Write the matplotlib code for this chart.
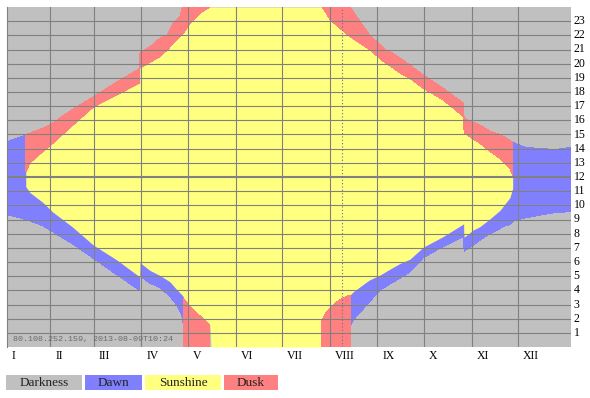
import numpy as np
import matplotlib
matplotlib.use('Agg')
import matplotlib.pyplot as plt
from matplotlib.patches import Rectangle

nan = np.nan

# day of year (0 = 1 Jan), hours in local clock time
dawn_day = [2.9, 8, 14.9, 15.2, 17.8, 26.2, 32.3, 45, 58.8, 74, 88.9, 89.1, 95.6, 102, 108.5, 112.9,
            116.1, 117.4, 170, 225.2, 227.3, 236, 244.6, 251.1, 257.6, 264, 272.7, 283.5, 294.3,
            298.9, 299.1, 305, 315.9, 322.4, 324.5, 328.8, 330.6, 330.9, 337.5, 348.3, 359.1, 368.4]
dawn_lo = [9.35, 9.2, 9.0, 9.0, 8.9, 8.55, 8.14, 7.3, 6.26, 5.1, 4.0, 5.0, 4.5, 4.2, 3.55, 2.96,
           2.26, 1.43, nan, 1.43, 1.9, 2.96, 4.0, 4.45, 4.85, 5.3, 6.3, 6.97, 7.55,
           7.8, 6.75, 7.2, 8.0, 8.35, 8.5, 8.65, 8.85, 8.9, 9.08, 9.31, 9.5, 9.55]
dawn_hi = [14.47, 14.7, 14.95, 11.3, 10.9, 10.2, 9.55, 8.5, 7.2, 6.15, 4.95, 5.95, 5.4, 5.05, 4.6, 4.05,
           3.7, 3.5, nan, 3.67, 3.9, 4.6, 5.08, 5.5, 5.9, 6.2, 7.05, 7.67, 8.38,
           8.7, 7.75, 8.26, 9.05, 9.65, 9.85, 10.55, 11.2, 14.45, 14.13, 14.0, 13.95, 14.1]

sun_day = [15.2, 17.8, 26.2, 32.3, 45, 58.8, 74, 88.9, 89.1, 95.6, 102, 108.5, 112.9, 116.1, 117.2,
           118.2, 121.5, 123.6, 128, 129.9, 134.4, 135.1, 206.3, 206.4, 207, 210.1, 212.2, 214.3,
           218.7, 225.2, 227.3, 236, 238.1, 244.6, 251.1, 257.6, 264, 272.7, 285.6, 298.9, 299.1,
           305, 309.4, 315.9, 322.4, 328.8, 330.6]
sun_lo = [11.3, 10.9, 10.2, 9.55, 8.5, 7.2, 6.15, 4.95, 5.95, 5.4, 5.05, 4.6, 4.05, 3.7, 3.55,
          3.3, 2.85, 2.6, 2.2, 2.0, 1.55, 0, 0, 1.8, 1.95, 2.5, 2.7, 2.96,
          3.36, 3.67, 3.9, 4.6, 4.75, 5.08, 5.5, 5.9, 6.2, 7.05, 7.8, 8.7, 7.75,
          8.26, 8.5, 9.05, 9.65, 10.55, 11.2]
sun_hi = [12.35, 13.0, 13.8, 14.35, 15.6, 16.94, 17.8, 18.63, 19.7, 20.1, 20.5, 21.2, 21.75, 22.05, 22.15,
          22.3, 22.85, 23.1, 23.57, 23.7, 24, 24, 24, 24, 24, 23.5, 23.1, 22.85,
          22.5, 21.9, 21.7, 21.1, 20.96, 20.5, 19.85, 19.34, 18.96, 18.26, 17.43, 16.25, 15.1,
          14.65, 14.38, 13.8, 13.3, 12.6, 12.1]

dusk_day = [15.2, 17.8, 26.2, 32.3, 45, 58.8, 74, 88.9, 89.1, 95.6, 102, 106.6, 110.5, 115, 116.5,
            118.2, 121.5, 128, 134.4, 170, 207, 210.1, 212.2, 218.7, 225.2, 231.6, 238.1, 248.5,
            251.1, 257.6, 264, 272.7, 285.6, 298.9, 299.1, 309.4, 315.9, 322.4, 328.8, 330.6]
dusk_lo = [12.35, 13.0, 13.8, 14.35, 15.6, 16.94, 17.8, 18.63, 19.7, 20.1, 20.5, 20.95, 21.4, 21.9, 22.05,
           22.3, 22.85, 23.57, 24, nan, 24, 23.5, 23.1, 22.5, 21.9, 21.45, 20.96, 20.0,
           19.85, 19.34, 18.96, 18.26, 17.43, 16.25, 15.1, 14.38, 13.8, 13.3, 12.6, 12.1]
dusk_hi = [15.0, 15.1, 15.45, 15.8, 16.75, 17.66, 18.7, 19.67, 20.8, 21.2, 21.8, 22.0, 22.85, 23.3, 24,
           24, 24, 24, 24, nan, 24, 24, 24, 24, 24, 23.0, 22.0, 20.96,
           20.85, 20.4, 19.9, 19.2, 18.26, 17.2, 16.14, 15.67, 15.25, 15.0, 14.6, 14.45]

# dusk that lasts past midnight (no darkness)
night_day = [117.4, 118.2, 121.5, 123.6, 128, 129.9, 134.4, 170, 206.4, 210.1, 212.2, 214.3, 218.7, 225.2]
night_hi = [3.4, 3.3, 2.85, 2.6, 2.2, 2.0, 1.55, nan, 1.8, 2.5, 2.7, 2.96, 3.36, 3.67]

months = ['I', 'II', 'III', 'IV', 'V', 'VI', 'VII', 'VIII', 'IX', 'X', 'XI', 'XII']
month_start = [0, 31, 59, 90, 120, 151, 181, 212, 243, 273, 304, 334]
hour_labels = list(range(1, 24))
legend_names = ['Darkness', 'Dawn', 'Sunshine', 'Dusk']
stamp = '80.108.252.159, 2013-08-09T10:24'
today = 220

c_dark = '#c0c0c0'
c_dawn = '#8080ff'
c_sun = '#ffff80'
c_dusk = '#ff8080'
c_grid = '#808080'

W, H = 590, 398
fig = plt.figure(figsize=(W / 100, H / 100), dpi=100)
ax = fig.add_axes([7 / W, (H - 347) / H, 564 / W, 340 / H])
ax.set_facecolor(c_dark)
x0, x1 = 2.9, 368.4
ax.set_xlim(x0, x1)
ax.set_ylim(0, 24)

kw = dict(linewidth=0, antialiased=False, zorder=1)
ax.fill_between(dawn_day, dawn_lo, dawn_hi, color=c_dawn, **kw)
ax.fill_between(sun_day, sun_lo, sun_hi, color=c_sun, **kw)
ax.fill_between(dusk_day, dusk_lo, dusk_hi, color=c_dusk, **kw)
ax.fill_between(night_day, 0, night_hi, color=c_dusk, **kw)

# grid
for h in hour_labels:
    ax.axhline(h, color=c_grid, lw=1.5 if h == 12 else 0.8, zorder=2)
for m in month_start[1:]:
    ax.axvline(m, color=c_grid, lw=0.8, zorder=2)
ax.axvline(today, color='#6a6a90', lw=0.8, ls=(0, (1, 2)), zorder=2)

for s in ['top', 'right', 'bottom']:
    ax.spines[s].set_visible(False)
ax.spines['left'].set_color(c_grid)
ax.spines['left'].set_linewidth(0.8)
ax.set_xticks([])
ax.set_yticks([])

px_day = 564 / (x1 - x0)
px_h = 340 / 24
serif = 'Liberation Serif'
for name, m in zip(months, month_start):
    ax.text(max(m, x0) + 5 / px_day, -8.7 / px_h, name, ha='left', va='center',
            fontsize=8.5, family=serif, color='black', clip_on=False)
for h in hour_labels:
    ax.text(x1 + 2.5 / px_day, h, str(h), ha='left', va='center',
            fontsize=8.5, family=serif, color='black', clip_on=False)

ax.text(x0 + 6.3 / px_day, 8 / px_h, stamp, ha='left', va='center', fontsize=6,
        family='Liberation Mono', color='#6a6a6a', zorder=3)

# legend boxes
boxes = [(6, 82), (85, 142), (145, 221), (224, 278)]
for name, (bx0, bx1), c in zip(legend_names, boxes, [c_dark, c_dawn, c_sun, c_dusk]):
    fig.add_artist(Rectangle((bx0 / W, (H - 390) / H), (bx1 - bx0) / W, 15 / H,
                             transform=fig.transFigure, facecolor=c, edgecolor='none'))
    fig.text((bx0 + bx1) / 2 / W, (H - 382.5) / H, name, ha='center', va='center',
             fontsize=9.5, family=serif, color='#222222')

fig.savefig('out.png', dpi=100)
